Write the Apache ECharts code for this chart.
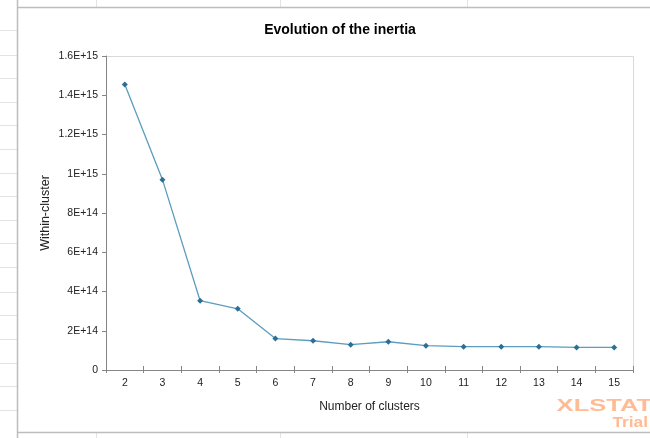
<!DOCTYPE html>
<html>
<head>
<meta charset="utf-8">
<script src="https://cdn.jsdelivr.net/npm/echarts@6/dist/echarts.min.js"></script>
<style>
html,body{margin:0;padding:0;background:#fff;}
#c{width:650px;height:438px;}
</style>
</head>
<body>
<div id="c"></div>
<script>
var categories = ['2','3','4','5','6','7','8','9','10','11','12','13','14','15'];
var inertia = [1.455e15, 9.70e14, 3.53e14, 3.12e14, 1.60e14, 1.49e14, 1.29e14, 1.44e14, 1.24e14, 1.19e14, 1.19e14, 1.19e14, 1.15e14, 1.15e14];
var yTickLabels = ['0','2E+14','4E+14','6E+14','8E+14','1E+15','1.2E+15','1.4E+15','1.6E+15'];
var yStep = 2e14;

var chart = echarts.init(document.getElementById('c'), null, {renderer:'canvas'});

var gfx = [];
var rowYs = [30,55,78,102,125,149,173,196,220,243,267,292,315,339,363,386,410];
rowYs.forEach(function(y){
  gfx.push({type:'line', shape:{x1:0,y1:y+0.5,x2:17,y2:y+0.5}, style:{stroke:'#e3e3e3',lineWidth:1}, silent:true});
});
[96,280,467].forEach(function(x){
  gfx.push({type:'line', shape:{x1:x+0.5,y1:0,x2:x+0.5,y2:7}, style:{stroke:'#e3e3e3',lineWidth:1}, silent:true});
  gfx.push({type:'line', shape:{x1:x+0.5,y1:432,x2:x+0.5,y2:438}, style:{stroke:'#e3e3e3',lineWidth:1}, silent:true});
});
gfx.push({type:'line', shape:{x1:17,y1:7.5,x2:650,y2:7.5}, style:{stroke:'#bdbdbd',lineWidth:1.5}, silent:true});
gfx.push({type:'line', shape:{x1:17,y1:432.5,x2:650,y2:432.5}, style:{stroke:'#bdbdbd',lineWidth:1.5}, silent:true});
gfx.push({type:'line', shape:{x1:17.5,y1:0,x2:17.5,y2:438}, style:{stroke:'#bdbdbd',lineWidth:1.5}, silent:true});
gfx.push({type:'line', shape:{x1:106,y1:56.5,x2:633.5,y2:56.5}, style:{stroke:'#d9d9d9',lineWidth:1}, silent:true, z:-1});
gfx.push({type:'line', shape:{x1:633.5,y1:56.5,x2:633.5,y2:370}, style:{stroke:'#d9d9d9',lineWidth:1}, silent:true, z:-1});
gfx.push({type:'text', x:652, y:406.5, scaleX:1.5, style:{text:'XLSTAT', x:0, y:0, align:'right', verticalAlign:'middle', fill:'#ffbb94', font:'bold 17px "Liberation Sans", Arial, sans-serif'}, silent:true});
gfx.push({type:'text', x:648, y:423, scaleX:1.15, style:{text:'Trial', x:0, y:0, align:'right', verticalAlign:'middle', fill:'#ffbb94', font:'bold 15px "Liberation Sans", Arial, sans-serif'}, silent:true});

var option = {
  animation:false,
  backgroundColor:'#ffffff',
  title:{
    text:'Evolution of the inertia',
    left:335, top:18, textAlign:'center',
    textStyle:{fontFamily:'Liberation Sans, Arial, sans-serif', fontSize:14, fontWeight:'bold', color:'#000'}
  },
  grid:{left:106, right:17, top:56, bottom:68, containLabel:false},
  xAxis:[{
    type:'category',
    data:categories,
    boundaryGap:true,
    name:'Number of clusters',
    nameLocation:'middle',
    nameGap:31,
    nameMoveOverlap:false,
    nameTextStyle:{fontFamily:'Liberation Sans, Arial, sans-serif', fontSize:12, color:'#222'},
    axisLine:{lineStyle:{color:'#868686',width:1}},
    axisTick:{show:true, inside:false, length:3, alignWithLabel:false, lineStyle:{color:'#868686'}},
    axisLabel:{fontFamily:'Liberation Sans, Arial, sans-serif', fontSize:10.5, color:'#222', margin:8},
    splitLine:{show:false}
  },{
    type:'category',
    data:categories,
    position:'bottom',
    offset:0,
    boundaryGap:true,
    axisLine:{show:false},
    axisTick:{show:true, inside:true, length:4, lineStyle:{color:'#868686'}},
    axisLabel:{show:false},
    splitLine:{show:false}
  }],
  yAxis:{
    type:'value',
    min:0, max:1.6e15, interval:yStep,
    name:'Within-cluster',
    nameLocation:'middle',
    nameGap:54,
    nameMoveOverlap:false,
    nameTextStyle:{fontFamily:'Liberation Sans, Arial, sans-serif', fontSize:12.5, color:'#222'},
    axisLine:{show:true, lineStyle:{color:'#868686',width:1}},
    axisTick:{show:true, inside:false, length:4, lineStyle:{color:'#868686'}},
    axisLabel:{
      fontFamily:'Liberation Sans, Arial, sans-serif', fontSize:10.5, color:'#222', margin:8,
      formatter:function(v){ var i = Math.round(v/yStep); return yTickLabels[i] !== undefined ? yTickLabels[i] : ''; }
    },
    splitLine:{show:false}
  },
  series:[{
    type:'line',
    data:inertia,
    xAxisIndex:0,
    symbol:'diamond',
    symbolSize:6,
    lineStyle:{color:'#5b9dbd', width:1.3},
    itemStyle:{color:'#2a7096'},
    z:3
  }],
  graphic:gfx
};
chart.setOption(option);
</script>
</body>
</html>
